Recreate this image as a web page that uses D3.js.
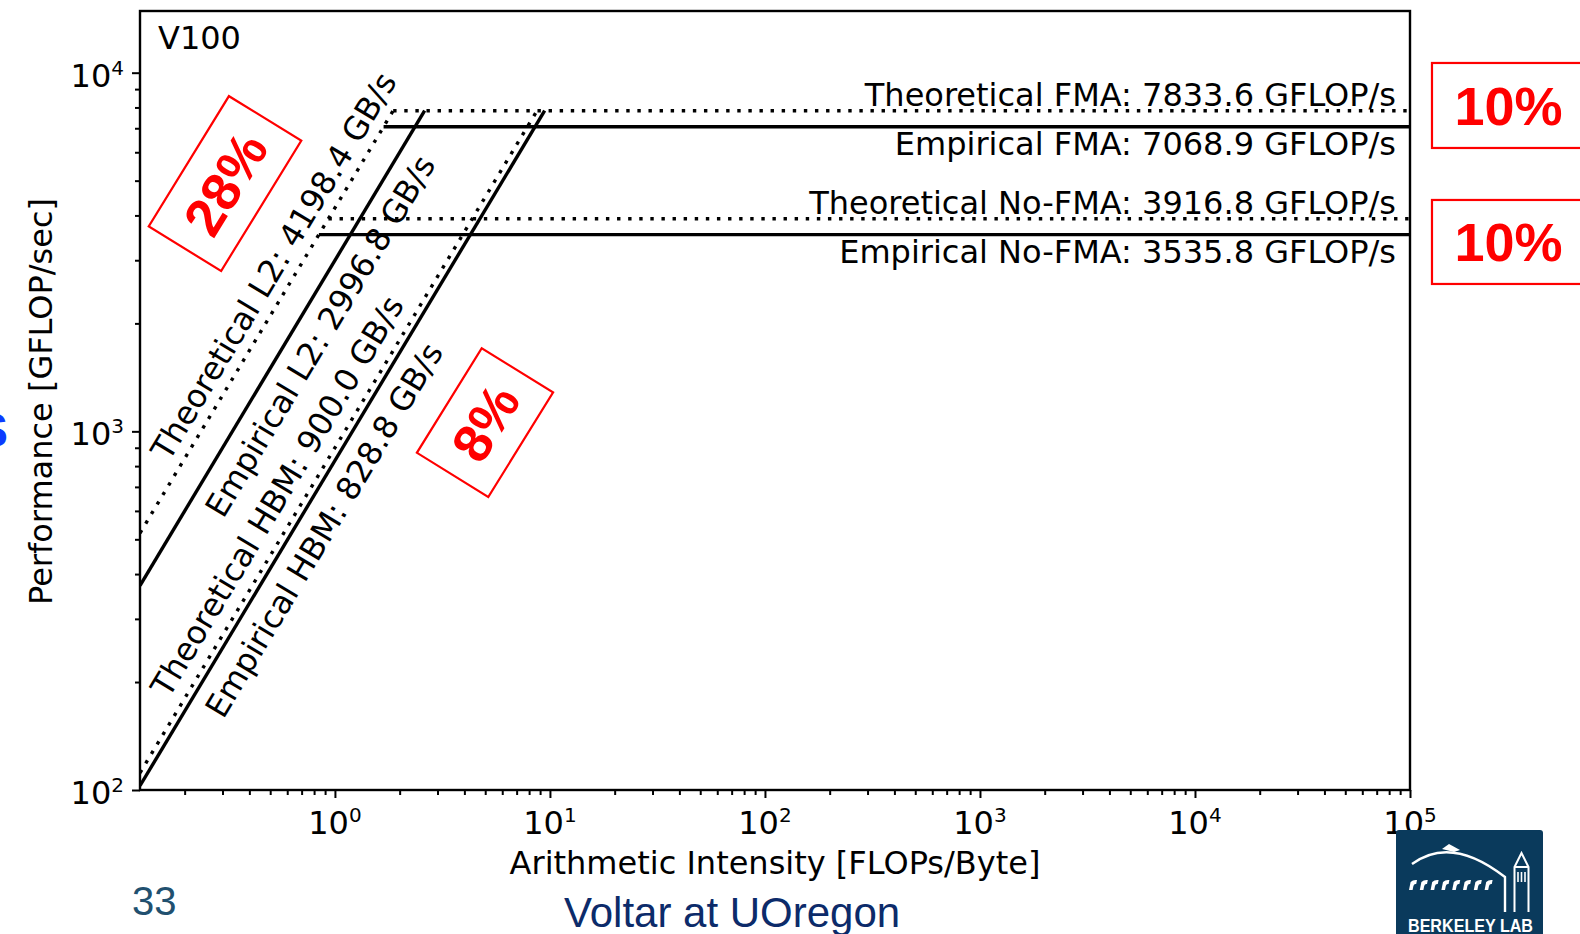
<!DOCTYPE html>
<html>
<head>
<meta charset="utf-8">
<script src="https://d3js.org/d3.v7.min.js"></script>
<style>
  html, body { margin: 0; padding: 0; background: #fff; overflow: hidden; }
  svg { display: block; }
</style>
</head>
<body>
<svg id="chart" width="1580" height="934"></svg>
<script>
// Compute ceilings of the V100 (GFLOP/s)
const ceilingNames  = ["Theoretical FMA", "Empirical FMA", "Theoretical No-FMA", "Empirical No-FMA"];
const ceilingValues = [7833.6, 7068.9, 3916.8, 3535.8];
const ceilingKinds  = ["theoretical", "empirical", "theoretical", "empirical"];

// Memory bandwidth ceilings (GB/s)
const bandwidthNames  = ["Theoretical L2", "Empirical L2", "Theoretical HBM", "Empirical HBM"];
const bandwidthValues = [4198.4, 2996.8, 900.0, 828.8];
const bandwidthKinds  = ["theoretical", "empirical", "theoretical", "empirical"];

// Efficiency gaps between theoretical and empirical ceilings
const gapLabels = ["28%", "8%", "10%", "10%"];

// Axis ticks (powers of ten)
const xTickExponents = [0, 1, 2, 3, 4, 5];
const yTickExponents = [2, 3, 4];

// ---------------------------------------------------------------- layout
const W = 1580, H = 934;
const plot = { left: 140, right: 1410, top: 11, bottom: 790 };
const sans = "'DejaVu Sans', sans-serif";
const arial = "'Liberation Sans', Arial, sans-serif";

const x = d3.scaleLog().domain([0.124, 1e5]).range([plot.left, plot.right]);
const y = d3.scaleLog().domain([100, 14860]).range([plot.bottom, plot.top]);

const svg = d3.select("#chart");
svg.append("rect").attr("width", W).attr("height", H).attr("fill", "#fff");

svg.append("defs").append("clipPath").attr("id", "plotClip")
  .append("rect")
  .attr("x", plot.left).attr("y", plot.top)
  .attr("width", plot.right - plot.left).attr("height", plot.bottom - plot.top);

const lineWidth = 3.4;
const dotPattern = "3.4 7.7";
const styleLine = (sel, kind) => sel
  .attr("fill", "none")
  .attr("stroke", "#000")
  .attr("stroke-width", lineWidth)
  .attr("stroke-dasharray", kind === "theoretical" ? dotPattern : null)
  .attr("stroke-linecap", "butt");

const maxFlops = d3.max(ceilingValues);
const maxBw = d3.max(bandwidthValues);
const xMin = x.domain()[0], xMax = x.domain()[1];

const lines = svg.append("g").attr("clip-path", "url(#plotClip)");

// Horizontal compute ceilings: from the highest-bandwidth roof to the right edge
ceilingValues.forEach((v, i) => {
  const xs = v / maxBw;
  lines.append("line")
    .attr("x1", x(xs)).attr("x2", x(xMax))
    .attr("y1", y(v)).attr("y2", y(v))
    .call(styleLine, ceilingKinds[i]);
});

// Diagonal bandwidth roofs: from the left edge up to the highest compute ceiling
bandwidthValues.forEach((bw, i) => {
  const xe = maxFlops / bw;
  lines.append("line")
    .attr("x1", x(xMin)).attr("y1", y(bw * xMin))
    .attr("x2", x(xe)).attr("y2", y(maxFlops))
    .call(styleLine, bandwidthKinds[i]);
});

// Frame
svg.append("rect")
  .attr("x", plot.left).attr("y", plot.top)
  .attr("width", plot.right - plot.left).attr("height", plot.bottom - plot.top)
  .attr("fill", "none").attr("stroke", "#000").attr("stroke-width", 2.4);

// ---------------------------------------------------------------- axes
function minorTicks(scale) {
  const [a, b] = scale.domain();
  const out = [];
  for (let e = Math.floor(Math.log10(a)); e <= Math.ceil(Math.log10(b)); e++) {
    for (let m = 2; m <= 9; m++) {
      const v = m * Math.pow(10, e);
      if (v >= a && v <= b) out.push(v);
    }
  }
  return out;
}
const styleAxis = g => {
  g.select(".domain").remove();
  g.selectAll(".tick line").attr("stroke", "#000").attr("stroke-width", 2);
};

const xMajor = xTickExponents.map(e => Math.pow(10, e));
const yMajor = yTickExponents.map(e => Math.pow(10, e));

svg.append("g").attr("transform", `translate(0,${plot.bottom})`)
  .call(d3.axisBottom(x).tickValues(xMajor).tickSize(8).tickFormat(() => ""))
  .call(styleAxis);
svg.append("g").attr("transform", `translate(0,${plot.bottom})`)
  .call(d3.axisBottom(x).tickValues(minorTicks(x)).tickSize(5).tickFormat(() => ""))
  .call(styleAxis);
svg.append("g").attr("transform", `translate(${plot.left},0)`)
  .call(d3.axisLeft(y).tickValues(yMajor).tickSize(8).tickFormat(() => ""))
  .call(styleAxis);
svg.append("g").attr("transform", `translate(${plot.left},0)`)
  .call(d3.axisLeft(y).tickValues(minorTicks(y)).tickSize(5).tickFormat(() => ""))
  .call(styleAxis);

function powerLabel(sel, exp) {
  sel.append("tspan").text("10");
  sel.append("tspan").attr("dy", -12).attr("font-size", 20).text(exp);
}

xTickExponents.forEach(e => {
  svg.append("text")
    .attr("x", x(Math.pow(10, e))).attr("y", 833.5)
    .attr("text-anchor", "middle")
    .attr("font-family", sans).attr("font-size", 32).attr("fill", "#000")
    .call(powerLabel, e);
});
yTickExponents.forEach(e => {
  svg.append("text")
    .attr("x", 124).attr("y", y(Math.pow(10, e)) + 14)
    .attr("text-anchor", "end")
    .attr("font-family", sans).attr("font-size", 32).attr("fill", "#000")
    .call(powerLabel, e);
});

svg.append("text")
  .attr("x", (plot.left + plot.right) / 2).attr("y", 874)
  .attr("text-anchor", "middle")
  .attr("font-family", sans).attr("font-size", 32).attr("fill", "#000")
  .text("Arithmetic Intensity [FLOPs/Byte]");

svg.append("text")
  .attr("transform", "translate(51.5,401.5) rotate(-90)")
  .attr("text-anchor", "middle")
  .attr("font-family", sans).attr("font-size", 32).attr("fill", "#000")
  .text("Performance [GFLOP/sec]");

svg.append("text")
  .attr("x", 158).attr("y", 49)
  .attr("font-family", sans).attr("font-size", 32).attr("fill", "#000")
  .text("V100");

// ---------------------------------------------------------------- roof labels
ceilingValues.forEach((v, i) => {
  const isTheo = ceilingKinds[i] === "theoretical";
  svg.append("text")
    .attr("x", 1396)
    .attr("y", isTheo ? y(v) - 5 : y(v) + 28.5)
    .attr("text-anchor", "end")
    .attr("font-family", sans).attr("font-size", 32).attr("fill", "#000")
    .text(`${ceilingNames[i]}: ${v.toFixed(1)} GFLOP/s`);
});

// where each bandwidth label sits along its roof, and how far from it
const bwLabelAt = [0.639, 0.671, 0.676, 0.698];
const bwLabelOffset = [-23, 26, -25, 26];

bandwidthValues.forEach((bw, i) => {
  const xa = bwLabelAt[i];
  const x0 = x(xa), y0 = y(bw * xa);
  const x1 = x(xa * 10), y1 = y(bw * xa * 10);
  const theta = Math.atan2(y1 - y0, x1 - x0);
  const nx = -Math.sin(theta), ny = Math.cos(theta);
  const cx = x0 + bwLabelOffset[i] * nx, cy = y0 + bwLabelOffset[i] * ny;
  svg.append("text")
    .attr("transform", `translate(${cx},${cy}) rotate(${theta * 180 / Math.PI})`)
    .attr("text-anchor", "middle")
    .attr("dy", "0.36em")
    .attr("font-family", sans).attr("font-size", 32).attr("fill", "#000")
    .text(`${bandwidthNames[i]}: ${bw.toFixed(1)} GB/s`);
});

// ---------------------------------------------------------------- gap boxes
const gapX = [0.3082, 4.988, 287100, 287100];
const gapY = [4908, 1057.8, 8102, 3373];
const gapW = [153, 123, 153, 153];
const gapH = [85, 84, 85, 84];
const gapRot = [-58.4, -58.2, 0, 0];

gapLabels.forEach((lbl, i) => {
  const g = svg.append("g")
    .attr("transform", `translate(${x(gapX[i])},${y(gapY[i])}) rotate(${gapRot[i]})`);
  g.append("rect")
    .attr("x", -gapW[i] / 2).attr("y", -gapH[i] / 2)
    .attr("width", gapW[i]).attr("height", gapH[i])
    .attr("fill", "none").attr("stroke", "#ff0000").attr("stroke-width", 2.2);
  g.append("text")
    .attr("text-anchor", "middle").attr("dy", "0.36em")
    .attr("font-family", arial).attr("font-weight", "bold")
    .attr("font-size", 54).attr("fill", "#ff0000")
    .text(lbl);
});

// ---------------------------------------------------------------- slide furniture
svg.append("text")
  .attr("x", 8).attr("y", 447)
  .attr("text-anchor", "end")
  .attr("font-family", arial).attr("font-weight", "bold")
  .attr("font-size", 48).attr("fill", "#0b3cff")
  .text("S");

svg.append("text")
  .attr("x", 132).attr("y", 915)
  .attr("font-family", arial).attr("font-size", 40).attr("fill", "#21506f")
  .text("33");

svg.append("text")
  .attr("x", 564).attr("y", 927)
  .attr("font-family", arial).attr("font-size", 42).attr("fill", "#0c2b6a")
  .text("Voltar at UOregon");

// Berkeley Lab badge
const logo = svg.append("g").attr("transform", "translate(1396,830)");
logo.append("rect").attr("width", 147).attr("height", 110).attr("rx", 3).attr("fill", "#0a3a5c");
logo.append("path").attr("d", "M16,34 Q55,5 109,47 V82")
  .attr("fill", "none").attr("stroke", "#fff").attr("stroke-width", 2.4);
logo.append("path").attr("d", "M46,19 L53,14 L64,20 L58,22 Z").attr("fill", "#fff");
d3.range(8).forEach(k => {
  const bx = 13 + k * 10.8;
  logo.append("path")
    .attr("d", `M${bx},60 L${bx + 1.6},52 Q${bx + 4},49.5 ${bx + 8},50 L${bx + 7.2},54 Q${bx + 5},53.5 ${bx + 4.4},56 L${bx + 3.6},60 Z`)
    .attr("fill", "#fff");
});
logo.append("path").attr("d", "M118.5,82 V37 L125.5,23 L132.5,37 V82 M118.5,37 H132.5")
  .attr("fill", "none").attr("stroke", "#fff").attr("stroke-width", 2);
[122, 125.5, 129].forEach(wx => {
  logo.append("line").attr("x1", wx).attr("x2", wx).attr("y1", 42).attr("y2", 52)
    .attr("stroke", "#fff").attr("stroke-width", 1.6);
});
logo.append("text")
  .attr("x", 12).attr("y", 101.5)
  .attr("font-family", arial).attr("font-weight", "bold").attr("font-size", 19)
  .attr("textLength", 125).attr("lengthAdjust", "spacingAndGlyphs")
  .attr("fill", "#fff")
  .text("BERKELEY LAB");
</script>
</body>
</html>
